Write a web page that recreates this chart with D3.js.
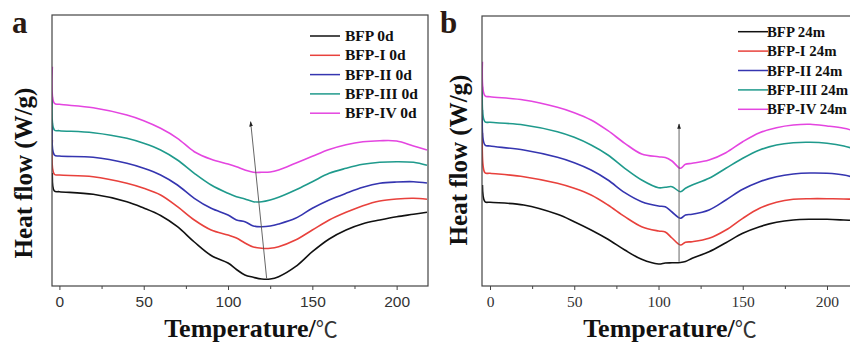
<!DOCTYPE html>
<html><head><meta charset="utf-8">
<script src="https://cdn.jsdelivr.net/npm/d3@7"></script>
<style>body{margin:0;background:#fff}svg{display:block}</style>
</head><body><svg id="c" width="850" height="342"></svg>
<script>
// ---------- data ----------
const xTickValues = [0, 50, 100, 150, 200];
const xMinorTicks = [25, 75, 125, 175];

// Panel a (0 d)
const namesA = ["BFP 0d", "BFP-I 0d", "BFP-II 0d", "BFP-III 0d", "BFP-IV 0d"];
const tempA = [-4.2, -3, 0, 20, 40, 50, 60, 70, 80, 90, 100, 105, 110, 115, 120, 125, 130, 140, 150, 160, 170, 180, 190, 200, 210, 218];
const bfp0d   = [11.3, 9.5, 9.43, 9.17, 8.43, 7.8, 7.05, 5.93, 4.4, 3.05, 2.3, 1.65, 1.1, 0.87, 0.7, 0.7, 0.93, 1.93, 3.43, 4.7, 5.6, 6.22, 6.6, 6.93, 7.17, 7.37];
const bfpI0d  = [14.6, 11.17, 11.1, 10.93, 10.27, 9.77, 9.1, 7.93, 6.6, 5.6, 5.1, 4.8, 4.3, 3.9, 3.77, 3.77, 3.93, 4.6, 5.6, 6.6, 7.37, 8.03, 8.5, 8.7, 8.77, 8.67];
const bfpII0d = [16.3, 13.1, 13.0, 12.87, 12.27, 11.77, 11.1, 10.1, 8.77, 7.77, 7.1, 6.6, 6.43, 6.0, 5.93, 6.0, 6.2, 6.77, 7.77, 8.6, 9.27, 9.87, 10.27, 10.4, 10.43, 10.3];
const bfpIII0d= [18.93, 15.6, 15.53, 15.33, 14.77, 14.27, 13.6, 12.6, 11.27, 10.1, 9.27, 8.93, 8.7, 8.43, 8.43, 8.6, 8.87, 9.6, 10.43, 11.27, 11.77, 12.17, 12.37, 12.43, 12.37, 12.07];
const bfpIV0d = [21.93, 18.27, 18.17, 17.83, 17.1, 16.53, 15.77, 14.77, 13.43, 12.67, 12.2, 11.93, 11.6, 11.37, 11.37, 11.4, 11.6, 12.27, 12.97, 13.65, 14.13, 14.43, 14.53, 14.5, 14.0, 13.6];
const arrowA = [[122.9, 0.77], [113.4, 16.43]];

// Panel b (24 m)
const namesB = ["BFP 24m", "BFP-I 24m", "BFP-II 24m", "BFP-III 24m", "BFP-IV 24m"];
const tempB = [-4.5, -3, 0, 20, 40, 50, 60, 70, 80, 90, 100, 104, 108, 113, 116, 120, 130, 140, 150, 160, 170, 180, 190, 200, 210, 218];
const bfp24m   = [10.1, 8.43, 8.37, 8.1, 7.17, 6.43, 5.6, 4.67, 3.6, 2.67, 2.2, 2.3, 2.32, 2.35, 2.45, 2.77, 3.43, 4.33, 5.27, 5.93, 6.37, 6.6, 6.67, 6.67, 6.6, 6.53];
const bfpI24m  = [15.3, 11.33, 11.27, 10.93, 10.27, 9.77, 9.1, 8.1, 6.93, 5.93, 5.5, 5.4, 4.8, 4.1, 4.37, 4.43, 4.77, 5.6, 6.77, 7.77, 8.37, 8.67, 8.73, 8.73, 8.7, 8.67];
const bfpII24m = [17.6, 14.1, 14.0, 13.6, 12.87, 12.33, 11.6, 10.6, 9.33, 8.43, 8.0, 7.93, 7.4, 6.77, 7.1, 7.17, 7.6, 8.6, 9.67, 10.43, 10.93, 11.2, 11.3, 11.27, 11.1, 10.77];
const bfpIII24m= [19.93, 16.43, 16.37, 16.1, 15.43, 14.87, 14.1, 13.1, 11.77, 10.6, 9.83, 9.87, 9.93, 9.43, 9.77, 10.1, 10.77, 11.77, 12.77, 13.6, 14.1, 14.33, 14.37, 14.27, 14.0, 13.6];
const bfpIV24m = [22.43, 19.03, 18.93, 18.6, 17.87, 17.33, 16.6, 15.53, 14.27, 13.2, 12.93, 12.85, 12.5, 11.77, 12.17, 12.27, 12.6, 13.33, 14.43, 15.33, 15.83, 16.1, 16.17, 16.0, 15.77, 15.43];
const arrowB = [[112.2, 2.43], [112.2, 16.2]];

const colors = ["#111111", "#e8413c", "#3535b0", "#1f9a8c", "#e445e0"];

// ---------- drawing ----------
const svg = d3.select("#c");
const defs = svg.append("defs");
defs.append("marker").attr("id", "ah").attr("viewBox", "0 0 10 10")
  .attr("refX", 9).attr("refY", 5).attr("markerWidth", 6).attr("markerHeight", 7)
  .attr("orient", "auto")
  .append("path").attr("d", "M0,1.5 L10,5 L0,8.5 Z").attr("fill", "#222");

function panel(cfg) {
  const x = d3.scaleLinear().domain(cfg.xDomain).range([cfg.left, cfg.right]);
  const y = d3.scaleLinear().domain(cfg.yDomain).range([cfg.bottom, cfg.top]);
  const g = svg.append("g");
  const clipId = "clip" + cfg.id;
  defs.append("clipPath").attr("id", clipId).append("rect")
    .attr("x", cfg.left).attr("y", cfg.top)
    .attr("width", cfg.right - cfg.left).attr("height", cfg.bottom - cfg.top);

  // ticks (bottom axis)
  const axis = d3.axisBottom(x).tickValues(cfg.ticks).tickSize(4).tickFormat(d3.format("d"));
  const ax = g.append("g").attr("transform", `translate(0,${cfg.bottom})`).call(axis);
  ax.select(".domain").remove();
  ax.selectAll(".tick line").attr("stroke", "#444");
  ax.selectAll(".tick text").attr("font-family", cfg.tickFont).attr("font-size", cfg.tickSize)
    .attr("fill", "#333").attr("dy", "0.9em");
  const minor = d3.axisBottom(x).tickValues(cfg.minor).tickSize(3).tickFormat("");
  const mx = g.append("g").attr("transform", `translate(0,${cfg.bottom})`).call(minor);
  mx.select(".domain").remove();
  mx.selectAll(".tick line").attr("stroke", "#444");

  // curves
  const line = d3.line().x(d => x(d[0])).y(d => y(d[1])).curve(d3.curveCatmullRom.alpha(0.5));
  const cg = g.append("g").attr("clip-path", `url(#${clipId})`);
  cfg.series.forEach((s, i) => {
    const pts = cfg.temps.map((t, j) => [t, s[j]]);
    cg.append("path").attr("d", line(pts)).attr("fill", "none")
      .attr("stroke", colors[i]).attr("stroke-width", 1.6).attr("stroke-linejoin", "round");
  });

  // arrow
  g.append("line")
    .attr("x1", x(cfg.arrow[0][0])).attr("y1", y(cfg.arrow[0][1]))
    .attr("x2", x(cfg.arrow[1][0])).attr("y2", y(cfg.arrow[1][1]))
    .attr("stroke", "#555").attr("stroke-width", 0.9).attr("marker-end", "url(#ah)");

  // frame
  g.append("rect").attr("x", cfg.left).attr("y", cfg.top)
    .attr("width", cfg.right - cfg.left).attr("height", cfg.bottom - cfg.top)
    .attr("fill", "none").attr("stroke", "#444").attr("stroke-width", 1.2);

  // legend
  const lg = g.append("g");
  cfg.names.forEach((n, i) => {
    const yy = cfg.legY + i * cfg.legStep;
    lg.append("line").attr("x1", cfg.legX0).attr("x2", cfg.legX1)
      .attr("y1", yy).attr("y2", yy).attr("stroke", colors[i]).attr("stroke-width", 1.5);
    lg.append("text").attr("x", cfg.legTextX).attr("y", yy + 5)
      .attr("font-family", "Liberation Serif, Times New Roman, serif").attr("font-weight", "bold")
      .attr("font-size", cfg.legFont).attr("fill", "#111").text(n);
  });

  // panel letter
  g.append("text").attr("x", cfg.letterX).attr("y", 33)
    .attr("font-family", "Liberation Serif, serif").attr("font-weight", "bold")
    .attr("font-size", 31).attr("fill", "#2a1a14").text(cfg.letter);

  // y label
  g.append("text").attr("transform", `translate(${cfg.yLabX},${cfg.yLabY}) rotate(-90)`)
    .attr("text-anchor", "middle").attr("font-family", "Liberation Serif, serif")
    .attr("font-weight", "bold").attr("font-size", 25).attr("fill", "#111")
    .text("Heat flow (W/g)");

  // x label
  const xl = g.append("text").attr("x", cfg.xLabX).attr("y", 337).attr("text-anchor", "middle")
    .attr("font-family", "Liberation Serif, serif").attr("font-size", 26).attr("fill", "#111");
  xl.append("tspan").attr("font-weight", "bold").text("Temperature/");
  xl.append("tspan").attr("font-weight", "normal").attr("font-family", "Noto Sans CJK SC, sans-serif")
    .attr("font-size", 22).attr("fill", "#333").text("℃");
}

panel({
  id: "a", left: 52, right: 428, top: 15, bottom: 286,
  xDomain: [-4.4, 218.6], yDomain: [0, 27.1],
  ticks: xTickValues, minor: xMinorTicks, tickFont: "Liberation Sans, Arial, sans-serif", tickSize: 15.5,
  temps: tempA, series: [bfp0d, bfpI0d, bfpII0d, bfpIII0d, bfpIV0d], names: namesA,
  arrow: arrowA, legFont: 15.5,
  legX0: 310, legX1: 340, legTextX: 345, legY: 36, legStep: 19.3,
  letter: "a", letterX: 12, yLabX: 32, yLabY: 173, xLabX: 251
});
panel({
  id: "b", left: 482, right: 858, top: 16, bottom: 286,
  xDomain: [-4.75, 218.4], yDomain: [0, 27.0],
  ticks: xTickValues, minor: xMinorTicks, tickFont: "Liberation Serif, Times New Roman, serif", tickSize: 15.5,
  temps: tempB, series: [bfp24m, bfpI24m, bfpII24m, bfpIII24m, bfpIV24m], names: namesB,
  arrow: arrowB, legFont: 14.8,
  legX0: 738, legX1: 768, legTextX: 767, legY: 31.7, legStep: 19.4,
  letter: "b", letterX: 440, yLabX: 467, yLabY: 160, xLabX: 670
});
</script></body></html>
